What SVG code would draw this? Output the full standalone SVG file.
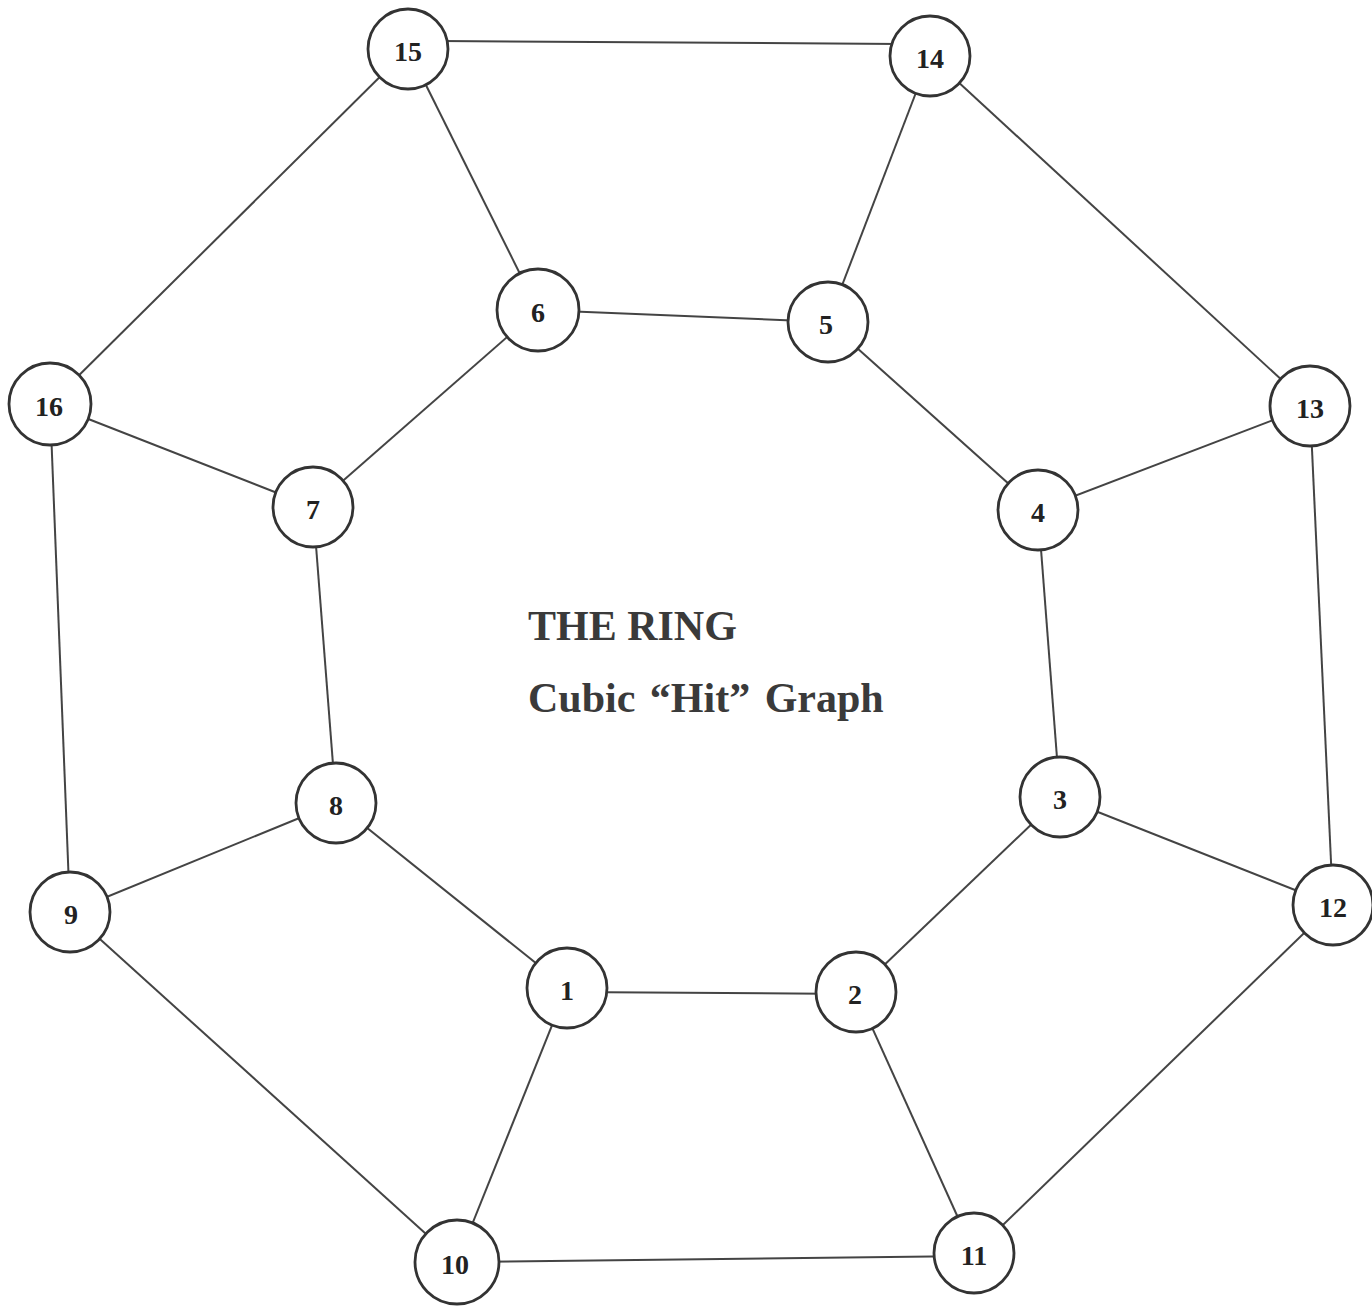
<svg xmlns="http://www.w3.org/2000/svg" width="1372" height="1310" viewBox="0 0 1372 1310">
<style>
.n circle{fill:#fff;stroke:#333;stroke-width:2.8}
.n text{font-family:"Liberation Serif",serif;font-weight:bold;font-size:28px;fill:#222;text-anchor:middle;dominant-baseline:central}
#edges line{stroke:#444;stroke-width:2}
.t{font-family:"Liberation Serif",serif;font-weight:bold;font-size:42px;fill:#3a3a3a}
</style>
<rect width="1372" height="1310" fill="#fff"/>
<g id="edges">
<line x1="440" y1="41" x2="900" y2="44"/>
<line x1="408" y1="49" x2="50" y2="404"/>
<line x1="408" y1="49" x2="538" y2="310"/>
<line x1="930" y1="56" x2="828" y2="322"/>
<line x1="930" y1="56" x2="1310" y2="406"/>
<line x1="538" y1="310" x2="828" y2="322"/>
<line x1="538" y1="310" x2="313" y2="507"/>
<line x1="828" y1="322" x2="1038" y2="510"/>
<line x1="50" y1="404" x2="313" y2="507"/>
<line x1="50" y1="404" x2="70" y2="912"/>
<line x1="1310" y1="406" x2="1038" y2="510"/>
<line x1="1310" y1="406" x2="1333" y2="905"/>
<line x1="313" y1="507" x2="336" y2="803"/>
<line x1="1038" y1="510" x2="1060" y2="797"/>
<line x1="336" y1="803" x2="70" y2="912"/>
<line x1="336" y1="803" x2="567" y2="988"/>
<line x1="1060" y1="797" x2="1333" y2="905"/>
<line x1="1060" y1="797" x2="856" y2="992"/>
<line x1="70" y1="912" x2="457" y2="1262"/>
<line x1="1333" y1="905" x2="974" y2="1253"/>
<line x1="567" y1="992" x2="856" y2="994"/>
<line x1="567" y1="988" x2="457" y2="1262"/>
<line x1="856" y1="992" x2="974" y2="1253"/>
<line x1="457" y1="1262" x2="974" y2="1256"/>
</g>
<g id="n15" class="n"><circle cx="408" cy="49" r="40"/><text x="408" y="51">15</text></g>
<g id="n14" class="n"><circle cx="930" cy="56" r="40"/><text x="930" y="58">14</text></g>
<g id="n6" class="n"><circle cx="538" cy="310" r="41"/><text x="538" y="312">6</text></g>
<g id="n5" class="n"><circle cx="828" cy="322" r="40"/><text x="826" y="324">5</text></g>
<g id="n16" class="n"><circle cx="50" cy="404" r="41"/><text x="49" y="406">16</text></g>
<g id="n13" class="n"><circle cx="1310" cy="406" r="40"/><text x="1310" y="408">13</text></g>
<g id="n7" class="n"><circle cx="313" cy="507" r="40"/><text x="313" y="509">7</text></g>
<g id="n4" class="n"><circle cx="1038" cy="510" r="40"/><text x="1038" y="512">4</text></g>
<g id="n8" class="n"><circle cx="336" cy="803" r="40"/><text x="336" y="805">8</text></g>
<g id="n3" class="n"><circle cx="1060" cy="797" r="40"/><text x="1060" y="799">3</text></g>
<g id="n9" class="n"><circle cx="70" cy="912" r="40"/><text x="71" y="914">9</text></g>
<g id="n12" class="n"><circle cx="1333" cy="905" r="40"/><text x="1333" y="907">12</text></g>
<g id="n1" class="n"><circle cx="567" cy="988" r="40"/><text x="567" y="990">1</text></g>
<g id="n2" class="n"><circle cx="856" cy="992" r="40"/><text x="855" y="994">2</text></g>
<g id="n10" class="n"><circle cx="457" cy="1262" r="42"/><text x="455" y="1264">10</text></g>
<g id="n11" class="n"><circle cx="974" cy="1253" r="40"/><text x="974" y="1255">11</text></g>
<text class="t" x="528" y="640">THE RING</text>
<text class="t" x="528" y="712" word-spacing="4">Cubic “Hit” Graph</text>
</svg>
